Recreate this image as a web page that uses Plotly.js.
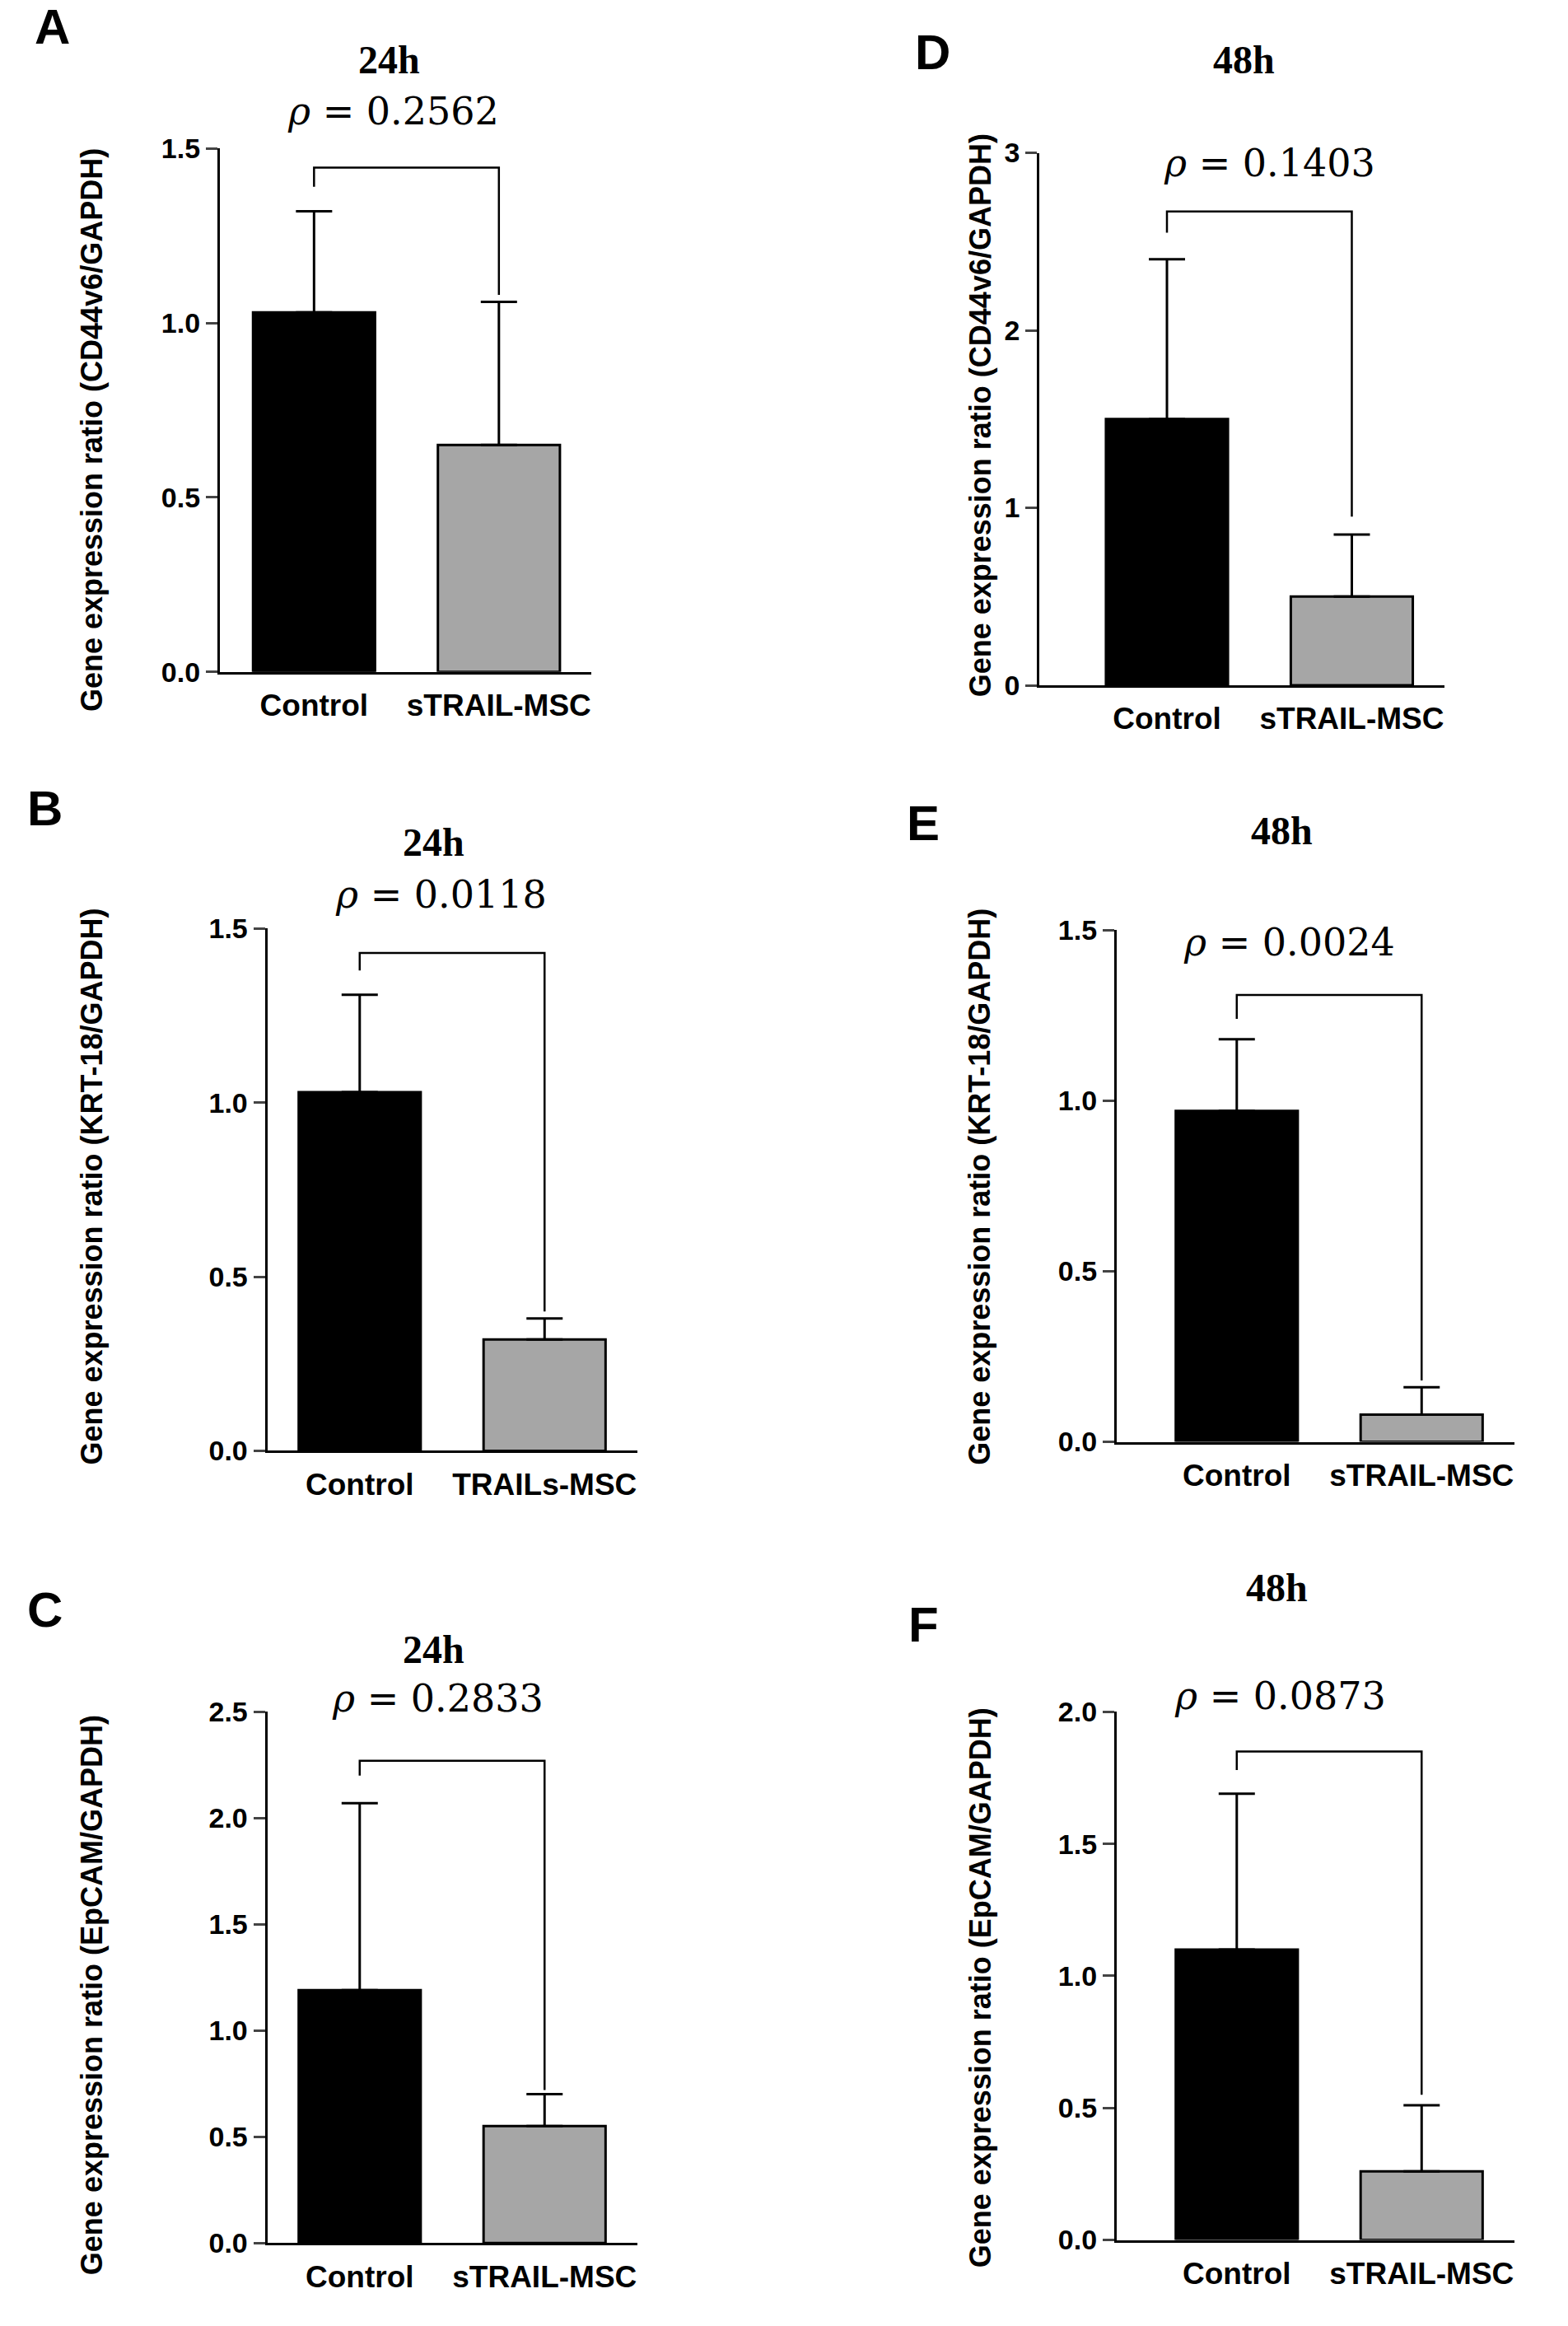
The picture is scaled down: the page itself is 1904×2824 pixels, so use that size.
<!DOCTYPE html>
<html>
<head>
<meta charset="utf-8">
<script src="https://cdn.plot.ly/plotly-3.0.1.min.js"></script>
<style>body{margin:0;background:#fff}#chart{width:1904px;height:2824px}</style>
</head>
<body>
<div id="chart"></div>
<script>
// values (mean, upper SD)
var groups = ["Control", "sTRAIL-MSC"];
var groupsB = ["Control", "TRAILs-MSC"];
var meanA = [1.03, 0.65], errA = [0.29, 0.41];
var meanB = [1.03, 0.32], errB = [0.28, 0.06];
var meanC = [1.19, 0.55], errC = [0.88, 0.15];
var meanD = [1.5, 0.5], errD = [0.9, 0.35];
var meanE = [0.97, 0.08], errE = [0.21, 0.08];
var meanF = [1.1, 0.26], errF = [0.59, 0.25];
// bracket heights: [left leg end, bar line, right leg end]
var brA = [1.39, 1.445, 1.08];
var brB = [1.38, 1.43, 0.40];
var brC = [2.2, 2.27, 0.72];
var brD = [2.55, 2.67, 0.95];
var brE = [1.24, 1.31, 0.18];
var brF = [1.78, 1.85, 0.55];
var pA = "0.2562", pB = "0.0118", pC = "0.2833", pD = "0.1403", pE = "0.0024", pF = "0.0873";
var genes = ["CD44v6", "KRT-18", "EpCAM"];

var W = 1904, H = 2824, sx = 1904 / 1056, sy = 2824 / 1568;
function fx(x) { return x * sx / W; }
function fy(y) { return 1 - y * sy / H; }

// layout geometry (display coords of reference)
var panels = [
  {k: "A", mean: meanA, err: errA, br: brA, p: pA, cats: groups, gene: genes[0], time: "24h", ymax: 1.5, dt: 0.5,
   ax: 148, y0: 453, y1: 100, xmin: -0.51, letter: [35, 18], title: [262, 40], pt: [265, 75], yt: [62, 290]},
  {k: "B", mean: meanB, err: errB, br: brB, p: pB, cats: groupsB, gene: genes[1], time: "24h", ymax: 1.5, dt: 0.5,
   ax: 180, y0: 978, y1: 626, xmin: -0.5, letter: [30, 545], title: [292, 568], pt: [297, 603], yt: [62, 800]},
  {k: "C", mean: meanC, err: errC, br: brC, p: pC, cats: groups, gene: genes[2], time: "24h", ymax: 2.5, dt: 0.5,
   ax: 180, y0: 1512, y1: 1154, xmin: -0.5, letter: [30, 1085], title: [292, 1112], pt: [295, 1145], yt: [62, 1345]},
  {k: "D", mean: meanD, err: errD, br: brD, p: pD, cats: groups, gene: genes[0], time: "48h", ymax: 3, dt: 1,
   ax: 700, y0: 462, y1: 103, xmin: -0.69, letter: [628, 35], title: [838, 40], pt: [855, 110], yt: [660, 280]},
  {k: "E", mean: meanE, err: errE, br: brE, p: pE, cats: groups, gene: genes[1], time: "48h", ymax: 1.5, dt: 0.5,
   ax: 752, y0: 972, y1: 627, xmin: -0.65, letter: [622, 555], title: [863, 560], pt: [868, 635], yt: [660, 800]},
  {k: "F", mean: meanF, err: errF, br: brF, p: pF, cats: groups, gene: genes[2], time: "48h", ymax: 2.0, dt: 0.5,
   ax: 752, y0: 1510, y1: 1154, xmin: -0.65, letter: [622, 1095], title: [860, 1070], pt: [862, 1143], yt: [660, 1340]}
];

var data = [], annotations = [];
var layout = {
  width: W, height: H, margin: {l: 0, r: 0, t: 0, b: 0},
  paper_bgcolor: "#fff", plot_bgcolor: "rgba(0,0,0,0)", showlegend: false,
  font: {family: "Liberation Sans, Arial, sans-serif", color: "#000"}
};

panels.forEach(function (p, i) {
  var n = i === 0 ? "" : String(i + 1);
  var unit = 124.5;
  var xlen = (1.5 - p.xmin) * unit;
  layout["xaxis" + n] = {
    domain: [fx(p.ax), fx(p.ax + xlen)], range: [p.xmin, 1.5], anchor: "y" + n,
    showline: true, linewidth: 3, linecolor: "#000", showgrid: false, zeroline: false,
    tickvals: [0, 1], ticktext: p.cats, ticks: "", ticklabelstandoff: 6,
    tickfont: {size: 37, family: "Liberation Sans", weight: "bold"}
  };
  layout["yaxis" + n] = {
    domain: [fy(p.y0), fy(p.y1)], range: [0, p.ymax], anchor: "x" + n,
    showline: true, linewidth: 3, linecolor: "#000", showgrid: false, zeroline: false,
    dtick: p.dt, tick0: 0, tickformat: p.dt < 1 ? ".1f" : "d", ticks: "outside", ticklen: 14, tickwidth: 3,
    tickfont: {size: 34, family: "Liberation Sans", weight: "bold"}
  };
  data.push({
    type: "bar", x: [0, 1], y: p.mean, width: 0.66, xaxis: "x" + n, yaxis: "y" + n,
    marker: {color: ["#000000", "#a6a6a6"], line: {color: "#000", width: 3}},
    error_y: {type: "data", array: p.err, arrayminus: [0, 0], symmetric: false, color: "#000", thickness: 3, width: 22},
    cliponaxis: false
  });
  data.push({
    type: "scatter", mode: "lines", x: [0, 0, 1, 1], y: [p.br[0], p.br[1], p.br[1], p.br[2]],
    xaxis: "x" + n, yaxis: "y" + n, line: {color: "#000", width: 2.5}, cliponaxis: false, hoverinfo: "skip"
  });
  annotations.push({
    xref: "paper", yref: "paper", x: fx(p.letter[0]), y: fy(p.letter[1]), xanchor: "center", yanchor: "middle",
    text: "<b>" + p.k + "</b>", showarrow: false, font: {size: 60, family: "Liberation Sans"}
  });
  annotations.push({
    xref: "paper", yref: "paper", x: fx(p.title[0]), y: fy(p.title[1]), xanchor: "center", yanchor: "middle",
    text: "<b>" + p.time + "</b>", showarrow: false, font: {size: 48, family: "Liberation Serif"}
  });
  annotations.push({
    xref: "paper", yref: "paper", x: fx(p.pt[0]), y: fy(p.pt[1]), xanchor: "center", yanchor: "middle",
    text: "<i>ρ</i> = " + p.p, showarrow: false, font: {size: 46, family: "DejaVu Serif"}
  });
  annotations.push({
    xref: "paper", yref: "paper", x: fx(p.yt[0]), y: fy(p.yt[1]), xanchor: "center", yanchor: "middle",
    textangle: -90, text: "<b>Gene expression ratio (" + p.gene + "/GAPDH)</b>", showarrow: false,
    font: {size: 36, family: "Liberation Sans"}
  });
});
layout.annotations = annotations;

Plotly.newPlot("chart", data, layout, {displayModeBar: false, staticPlot: true});
</script>
</body>
</html>
